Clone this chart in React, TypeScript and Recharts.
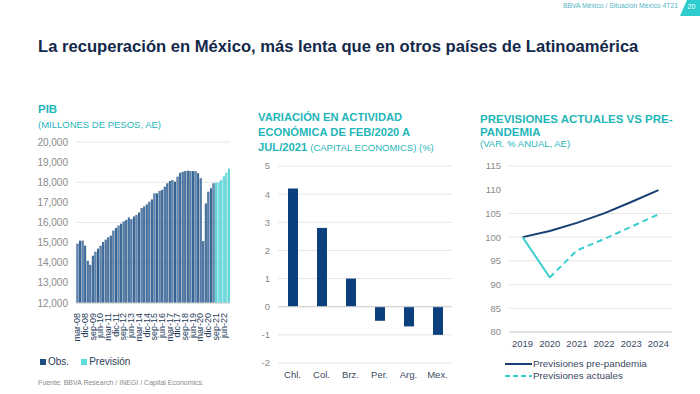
import React from 'react'
import {
  BarChart,
  Bar,
  Cell,
  LineChart,
  Line,
  XAxis,
  YAxis,
  CartesianGrid,
  ReferenceLine,
} from 'recharts'

// PIB trimestral (mar-08 .. dic-22)
const MONTHS = ['mar', 'jun', 'sep', 'dic']
const YEARS = ['08', '09', '10', '11', '12', '13', '14', '15', '16', '17', '18', '19', '20', '21', '22']
const PIB_OBS = [
  14950, 15100, 15100, 14850,
  14100, 13900, 14350, 14550,
  14700, 14850, 15030, 15150,
  15270, 15350, 15600, 15730,
  15850, 15940, 16050, 16130,
  16250, 16170, 16300, 16380,
  16500, 16720, 16800, 16900,
  17030, 17150, 17450, 17450,
  17570, 17620, 17780, 17950,
  18060, 18110, 18030, 18280,
  18470, 18520, 18560, 18580, 18560, 18550, 18560, 18450,
  18200, 15080, 16950, 17530,
  17700, 17950,
]
const PIB_PREV = [17980, 18000, 18110, 18300, 18470, 18680]
const PIB_TICKS = [12000, 13000, 14000, 15000, 16000, 17000, 18000, 19000, 20000]

// Variación actividad feb/2020 - jul/2021
const COUNTRIES = ['Chl.', 'Col.', 'Brz.', 'Per.', 'Arg.', 'Mex.']
const VARIATION = [4.2, 2.8, 1.0, -0.5, -0.7, -1.0]
const VAR_TICKS = [-2, -1, 0, 1, 2, 3, 4, 5]

// Previsiones
const YEARS_F = ['2019', '2020', '2021', '2022', '2023', '2024']
const PRE_PANDEMIA = [100, 101.3, 103.0, 105.0, 107.4, 109.9]
const ACTUALES_OBS = [100, 91.5, null, null, null, null]
const ACTUALES_PREV = [null, 91.5, 97.2, 99.6, 102.2, 104.8]
const FORE_TICKS = [80, 85, 90, 95, 100, 105, 110, 115]

const NAVY = '#0b3f7d'
const AQUA = '#2dcccd'
const TITLE_AQUA = '#1fb6b9'
const FONT = '"Liberation Sans", Arial, sans-serif'

const quarters = YEARS.flatMap(y => MONTHS.map(m => `${m}-${y}`))
const pibData = quarters.map((q, i) => ({
  q,
  value: i < PIB_OBS.length ? PIB_OBS[i] : PIB_PREV[i - PIB_OBS.length],
  prev: i >= PIB_OBS.length,
}))
const varData = COUNTRIES.map((c, i) => ({ c, v: VARIATION[i] }))
const foreData = YEARS_F.map((y, i) => ({
  y,
  pre: PRE_PANDEMIA[i],
  obs: ACTUALES_OBS[i],
  act: ACTUALES_PREV[i],
}))

const RotTick = (props: any) => {
  const { x, y, payload } = props
  return (
    <text
      x={0}
      y={0}
      transform={`translate(${x + 3},${y + 2}) rotate(-90)`}
      textAnchor="end"
      fontSize={9}
      fill="#243a58"
      fontFamily={FONT}
    >
      {payload.value}
    </text>
  )
}

const abs = (left: number, top: number, extra: any = {}) => ({
  position: 'absolute' as const,
  left,
  top,
  whiteSpace: 'nowrap' as const,
  ...extra,
})

const tickStyle = { fontSize: 9.5, fill: '#8a8a8a', fontFamily: FONT }
const catStyle = { fontSize: 9.5, fill: '#3a4a5e', fontFamily: FONT }

export default function App() {
  return (
    <div
      style={{
        position: 'absolute',
        left: 0,
        top: 0,
        width: 700,
        height: 394,
        overflow: 'hidden',
        background: '#fff',
        fontFamily: FONT,
      }}
    >
      {/* header */}
      <div style={abs(0, 2, { width: 678, textAlign: 'right', fontSize: 6.8, color: '#52b5c4' })}>
        BBVA México / Situación México 4T21
      </div>
      <div
        style={abs(680, 0, {
          width: 20,
          height: 16,
          background: AQUA,
          clipPath: 'polygon(35% 0, 100% 0, 100% 100%, 0 100%)',
          color: '#fff',
          fontSize: 7,
          lineHeight: '14px',
          textAlign: 'center',
          paddingLeft: 3,
          boxSizing: 'border-box',
        })}
      >
        20
      </div>
      <div style={abs(38, 37, { fontSize: 16.6, fontWeight: 'bold', color: '#13284a' })}>
        La recuperación en México, más lenta que en otros países de Latinoamérica
      </div>

      {/* PIB */}
      <div style={abs(38, 103, { fontSize: 11.5, fontWeight: 'bold', color: TITLE_AQUA })}>PIB</div>
      <div style={abs(38, 119, { fontSize: 9.5, color: TITLE_AQUA })}>(MILLONES DE PESOS, AE)</div>
      <div style={abs(30, 135)}>
        <BarChart
          width={202}
          height={218}
          data={pibData}
          margin={{ top: 7, right: 2, bottom: 0, left: 0 }}
          barCategoryGap="18%"
        >
          <defs>
            <linearGradient id="gObs" x1="0" y1="0" x2="1" y2="0">
              <stop offset="0%" stopColor="#0f3a6b" />
              <stop offset="50%" stopColor="#5a8aba" />
              <stop offset="100%" stopColor="#0f3a6b" />
            </linearGradient>
            <linearGradient id="gPrev" x1="0" y1="0" x2="1" y2="0">
              <stop offset="0%" stopColor="#25bfc4" />
              <stop offset="50%" stopColor="#8ee9ea" />
              <stop offset="100%" stopColor="#25bfc4" />
            </linearGradient>
          </defs>
          <CartesianGrid vertical={false} stroke="#e6e6e6" />
          <XAxis
            dataKey="q"
            interval={2}
            height={50}
            tick={<RotTick />}
            tickLine={false}
            axisLine={{ stroke: '#d0d0d0' }}
          />
          <YAxis
            width={46}
            domain={[12000, 20000]}
            ticks={PIB_TICKS}
            tickFormatter={(v: number) => v.toLocaleString('en-US')}
            tick={{ ...tickStyle, fontSize: 10 }}
            tickLine={false}
            axisLine={false}
          />
          <Bar dataKey="value" isAnimationActive={false}>
            {pibData.map((d, i) => (
              <Cell key={`p-${i}`} fill={d.prev ? 'url(#gPrev)' : 'url(#gObs)'} />
            ))}
          </Bar>
        </BarChart>
      </div>
      <div style={abs(40, 356, { fontSize: 10, color: '#2c3e58', display: 'flex', alignItems: 'center' })}>
        <span style={{ width: 6, height: 6, background: '#1d4f80', marginRight: 2 }} />
        Obs.
        <span style={{ width: 6, height: 6, background: '#5fdcdc', marginLeft: 12, marginRight: 2 }} />
        Previsión
      </div>
      <div style={abs(38, 379, { fontSize: 7, color: '#8a8a8a' })}>
        Fuente: BBVA Research / INEGI / Capital Economics.
      </div>

      {/* Variación */}
      <div style={abs(258, 110, { fontSize: 11.2, fontWeight: 'bold', color: TITLE_AQUA, lineHeight: '15px' })}>
        VARIACIÓN EN ACTIVIDAD
        <br />
        ECONÓMICA DE FEB/2020 A
        <br />
        JUL/2021 <span style={{ fontWeight: 'normal', fontSize: 9.5 }}>(CAPITAL ECONOMICS) (%)</span>
      </div>
      <div style={abs(250, 158)}>
        <BarChart
          width={210}
          height={225}
          data={varData}
          margin={{ top: 8, right: 8, bottom: 0, left: 0 }}
          barSize={10}
        >
          <CartesianGrid vertical={false} stroke="#e6e6e6" />
          <XAxis dataKey="c" height={20} tick={catStyle} tickLine={false} axisLine={false} />
          <YAxis
            width={28}
            domain={[-2, 5]}
            ticks={VAR_TICKS}
            tick={tickStyle}
            tickLine={false}
            axisLine={false}
          />
          <ReferenceLine y={0} stroke="#d0d0d0" />
          <Bar dataKey="v" fill={NAVY} isAnimationActive={false} />
        </BarChart>
      </div>

      {/* Previsiones */}
      <div style={abs(480, 113, { fontSize: 11.5, fontWeight: 'bold', color: TITLE_AQUA, lineHeight: '13px' })}>
        PREVISIONES ACTUALES VS PRE-
        <br />
        PANDEMIA
      </div>
      <div style={abs(480, 138, { fontSize: 9.5, color: TITLE_AQUA })}>(VAR. % ANUAL, AE)</div>
      <div style={abs(470, 158)}>
        <LineChart
          width={210}
          height={194}
          data={foreData}
          margin={{ top: 8, right: 8, bottom: 0, left: 0 }}
        >
          <CartesianGrid vertical={false} stroke="#e6e6e6" />
          <XAxis
            dataKey="y"
            height={20}
            padding={{ left: 13.6, right: 13.6 }}
            tick={catStyle}
            tickLine={false}
            axisLine={{ stroke: '#d0d0d0' }}
          />
          <YAxis
            width={39}
            domain={[80, 115]}
            ticks={FORE_TICKS}
            tick={tickStyle}
            tickLine={false}
            axisLine={false}
          />
          <Line
            dataKey="pre"
            stroke="#173e72"
            strokeWidth={2}
            dot={false}
            isAnimationActive={false}
          />
          <Line
            dataKey="obs"
            stroke="#3ccfcf"
            strokeWidth={2}
            dot={false}
            connectNulls={false}
            isAnimationActive={false}
          />
          <Line
            dataKey="act"
            stroke="#3ccfcf"
            strokeWidth={2}
            strokeDasharray="6 4"
            dot={false}
            connectNulls={false}
            isAnimationActive={false}
          />
        </LineChart>
      </div>
      <div style={abs(505, 358, { fontSize: 9.8, color: '#3a4a5e', lineHeight: '12px' })}>
        <div style={{ display: 'flex', alignItems: 'center' }}>
          <svg width={27} height={4} style={{ marginRight: 1 }}>
            <line x1={0} y1={2} x2={27} y2={2} stroke="#173e72" strokeWidth={2} />
          </svg>
          Previsiones pre-pandemia
        </div>
        <div style={{ display: 'flex', alignItems: 'center' }}>
          <svg width={27} height={4} style={{ marginRight: 1 }}>
            <line x1={0} y1={2} x2={27} y2={2} stroke="#3ccfcf" strokeWidth={2} strokeDasharray="5 3" />
          </svg>
          Previsiones actuales
        </div>
      </div>
    </div>
  )
}
